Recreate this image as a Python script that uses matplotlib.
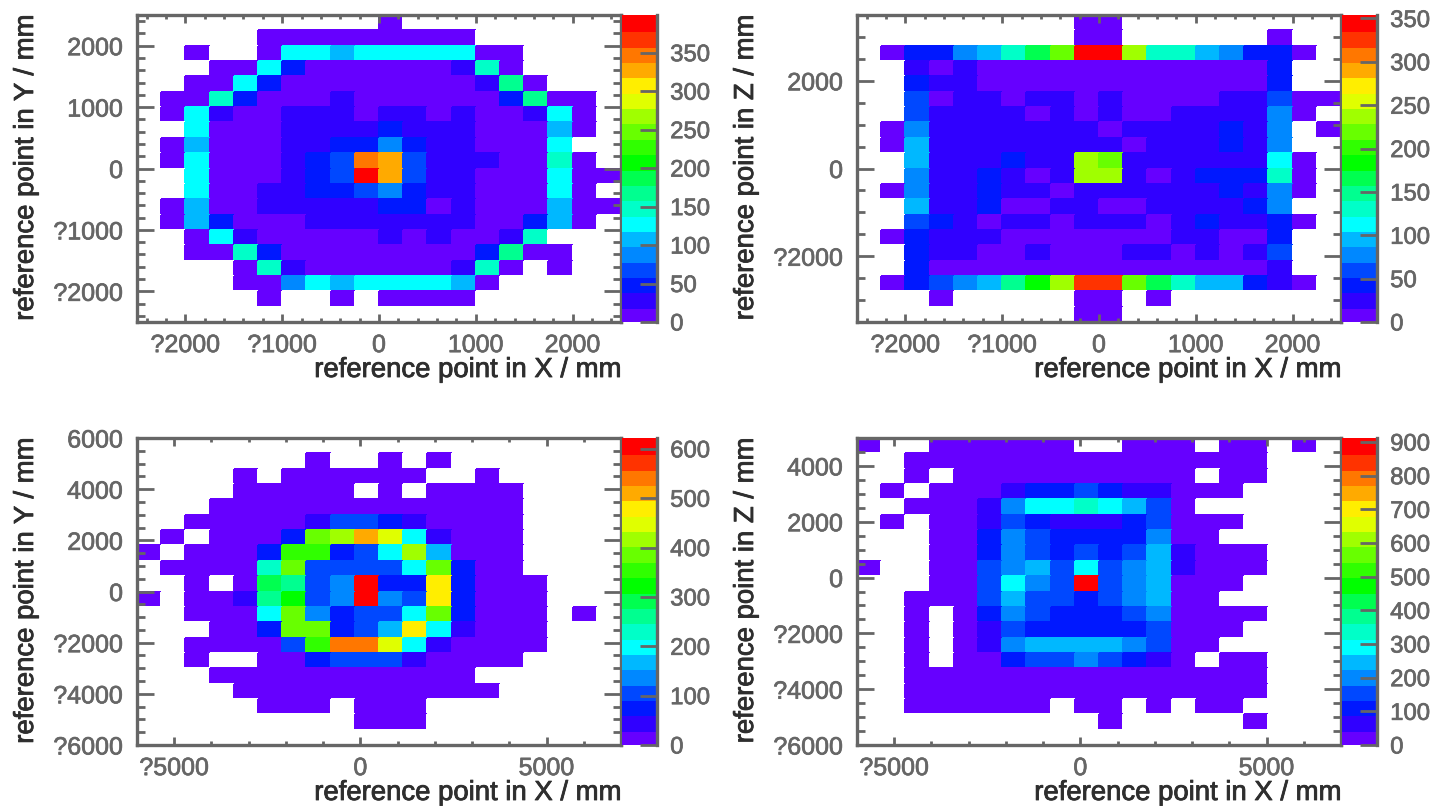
'''Recreate the four reference point maps with their colour bars.

Saves the figure as out.png, about 1431x806 pixels.
'''

import numpy as np
import matplotlib
matplotlib.use('Agg')
import matplotlib.pyplot as plt
import matplotlib.patheffects as pe
from matplotlib.colors import ListedColormap, Normalize
from matplotlib.ticker import FixedLocator, MultipleLocator, NullLocator

# Counts per bin, top row of the map first. 0 means an empty bin.
xy_top = [
    [0,0,0,0,0,0,0,0,0,0,10,0,0,0,0,0,0,0,0,0],
    [0,0,0,0,0,10,10,10,10,10,10,10,10,10,0,0,0,0,0,0],
    [0,0,10,0,0,10,130,130,110,130,130,130,130,130,10,10,0,0,0,0],
    [0,0,0,10,10,130,50,10,10,10,10,10,10,30,150,10,0,0,0,0],
    [0,0,10,10,130,50,10,10,10,10,10,10,10,10,30,170,10,0,0,0],
    [0,10,10,150,50,10,10,10,30,10,10,10,10,10,10,50,170,10,10,0],
    [0,10,130,30,10,10,30,30,30,10,30,30,10,30,10,10,30,130,10,0],
    [0,0,130,10,10,10,30,30,30,30,50,30,30,30,10,10,10,110,10,0],
    [0,10,110,10,10,10,30,30,50,50,90,50,30,30,10,10,10,130,0,0],
    [0,10,130,10,10,10,30,50,70,350,330,70,30,30,30,10,10,150,10,0],
    [0,0,130,10,10,10,30,50,70,390,330,70,30,30,10,10,10,130,10,10],
    [0,0,130,10,10,30,30,50,50,70,90,50,30,30,10,10,10,130,10,0],
    [0,10,110,10,10,30,30,30,30,30,50,50,10,30,10,10,10,110,10,10],
    [0,10,110,50,10,10,10,30,30,30,30,30,30,30,10,10,50,110,10,0],
    [0,0,10,130,30,10,10,10,10,10,30,10,30,10,10,30,150,0,0,0],
    [0,0,10,10,150,50,10,10,10,10,10,10,10,10,50,170,10,10,0,0],
    [0,0,0,0,10,150,30,10,10,10,10,10,10,30,150,10,0,10,0,0],
    [0,0,0,0,10,10,90,130,110,130,130,130,130,110,10,0,0,0,0,0],
    [0,0,0,0,0,10,0,0,10,0,10,10,10,10,0,0,0,0,0,0],
    [0,0,0,0,0,0,0,0,0,0,0,0,0,0,0,0,0,0,0,0],
]

xz_top = [
    [0,0,0,0,0,0,0,0,0,9,9,0,0,0,0,0,0,0,0,0],
    [0,0,0,0,0,0,0,0,0,9,9,0,0,0,0,0,0,9,0,0],
    [0,9,44,44,80,97,133,168,221,345,345,239,133,133,97,80,44,44,9,0],
    [0,0,27,9,27,9,9,9,9,9,9,9,9,9,9,9,9,44,0,0],
    [0,0,44,27,27,9,9,9,9,9,9,9,9,9,9,9,9,44,0,0],
    [0,0,62,9,27,27,9,27,27,9,27,9,9,9,9,27,27,62,9,9],
    [0,0,62,27,27,27,27,9,27,9,27,9,9,27,27,27,27,80,9,0],
    [0,9,80,27,27,27,27,27,27,27,9,27,27,27,27,44,27,80,0,9],
    [0,9,97,27,27,27,27,27,27,27,27,9,27,27,27,44,27,80,0,0],
    [0,0,97,27,27,27,44,27,27,239,221,27,27,27,27,27,27,115,9,0],
    [0,0,80,27,27,44,27,9,27,239,239,27,9,27,44,44,44,133,9,0],
    [0,9,80,27,27,44,27,27,9,27,27,27,27,27,27,44,27,80,9,0],
    [0,0,97,27,27,44,9,9,27,27,9,9,27,27,27,27,44,80,0,0],
    [0,0,62,44,27,9,27,27,9,27,27,27,9,27,44,27,27,44,9,0],
    [0,9,44,27,27,27,9,9,9,9,9,9,9,27,27,9,9,44,0,0],
    [0,0,44,27,27,9,9,27,9,9,9,27,27,9,27,9,27,62,0,0],
    [0,0,44,9,9,9,9,9,9,9,9,9,9,9,9,9,9,27,0,0],
    [0,9,44,62,80,97,150,186,239,327,327,221,168,133,97,97,44,27,9,0],
    [0,0,0,9,0,0,0,0,0,9,9,0,9,0,0,0,0,0,0,0],
    [0,0,0,0,0,0,0,0,0,9,9,0,0,0,0,0,0,0,0,0],
]

xy_bottom = [
    [0,0,0,0,0,0,0,0,0,0,0,0,0,0,0,0,0,0,0,0],
    [0,0,0,0,0,0,0,15,0,0,15,0,15,0,0,0,0,0,0,0],
    [0,0,0,0,15,0,15,15,15,15,15,15,0,0,15,0,0,0,0,0],
    [0,0,0,0,15,15,15,15,15,0,15,0,15,15,15,15,0,0,0,0],
    [0,0,0,15,15,15,15,15,15,15,15,15,15,15,15,15,0,0,0,0],
    [0,0,15,15,15,15,15,46,109,109,78,46,15,15,15,15,0,0,0,0],
    [0,15,0,15,15,15,78,388,419,512,450,202,46,15,15,15,0,0,0,0],
    [15,0,15,15,15,78,357,357,78,109,202,419,171,15,15,15,0,0,0,0],
    [0,15,15,15,15,233,388,109,109,109,109,202,388,78,15,15,0,0,0,0],
    [0,0,15,0,15,295,264,109,140,605,78,78,481,78,15,15,15,0,0,0],
    [15,0,15,15,46,264,326,109,140,605,140,109,481,78,15,15,15,0,0,0],
    [0,0,15,15,15,202,388,140,78,109,109,202,388,78,15,15,15,0,15,0],
    [0,0,0,15,15,78,388,388,78,109,171,481,202,46,15,15,15,0,0,0],
    [0,0,15,15,15,15,109,357,543,543,450,202,46,15,15,15,15,0,0,0],
    [0,0,15,0,0,15,15,78,109,109,109,46,15,15,15,15,0,0,0,0],
    [0,0,0,15,15,15,15,15,15,15,15,15,15,15,0,0,0,0,0,0],
    [0,0,0,0,15,15,15,15,15,15,15,15,15,15,15,0,0,0,0,0],
    [0,0,0,0,0,15,15,15,0,15,15,15,0,0,0,0,0,0,0,0],
    [0,0,0,0,0,0,0,0,0,15,15,15,0,0,0,0,0,0,0,0],
    [0,0,0,0,0,0,0,0,0,0,0,0,0,0,0,0,0,0,0,0],
]

xz_bottom = [
    [23,0,0,23,23,23,23,23,23,0,0,23,23,23,0,23,23,0,23,0],
    [0,0,23,23,23,23,23,23,23,23,23,23,23,23,23,23,23,0,0,0],
    [0,0,23,0,23,23,23,23,23,23,23,23,23,23,0,23,23,0,0,0],
    [0,23,0,23,23,23,68,114,114,160,114,68,68,23,23,23,0,0,0,0],
    [0,0,23,23,23,68,205,296,296,342,296,251,160,23,0,0,0,0,0,0],
    [0,23,0,23,23,68,160,114,68,68,68,114,160,23,23,23,0,0,0,0],
    [0,0,0,23,23,114,205,160,114,114,114,114,205,23,23,0,0,0,0,0],
    [0,0,0,23,23,114,205,160,114,160,114,160,251,68,23,23,23,0,0,0],
    [23,0,0,23,23,160,205,251,160,296,160,205,251,68,23,23,23,0,0,0],
    [0,0,0,23,23,160,296,205,160,889,160,205,251,23,23,23,0,0,0,0],
    [0,0,23,23,23,160,251,160,160,114,160,205,251,23,23,0,0,0,0,0],
    [0,0,23,0,23,114,205,160,114,114,114,160,205,23,23,23,23,0,0,0],
    [0,0,23,0,23,68,160,114,114,114,114,114,160,23,23,23,0,0,0,0],
    [0,0,23,0,23,68,205,251,251,251,251,205,160,23,23,0,0,0,0,0],
    [0,0,23,0,23,23,114,160,160,205,160,114,68,23,0,23,23,0,0,0],
    [0,0,23,23,23,23,23,23,23,23,23,23,23,23,23,23,23,0,0,0],
    [0,0,23,23,23,23,23,23,23,23,23,23,23,23,23,23,23,0,0,0],
    [0,0,23,23,23,23,23,23,0,23,23,0,23,0,23,23,0,0,0,0],
    [0,0,0,0,0,0,0,0,0,0,23,0,0,0,0,0,23,0,0,0],
    [0,0,0,0,0,0,0,0,0,0,0,0,0,0,0,0,0,0,0,0],
]

xy_top_bar_ticks = [0, 50, 100, 150, 200, 250, 300, 350]
xz_top_bar_ticks = [0, 50, 100, 150, 200, 250, 300, 350]
xy_bottom_bar_ticks = [0, 100, 200, 300, 400, 500, 600]
xz_bottom_bar_ticks = [0, 100, 200, 300, 400, 500, 600, 700, 800, 900]

palette = ['#6600ff', '#3000ff', '#0018ff', '#0048ff', '#0088ff',
           '#00b8ff', '#00ffff', '#00ffc8', '#00ff90', '#00ff50',
           '#00ff00', '#30ff00', '#68ff00', '#a0ff00', '#e0ff00',
           '#ffee00', '#ffaa00', '#ff7700', '#ff3300', '#ff0000']

FIG_W = 1431
FIG_H = 806
GREY = '#666666'
TEXT = '#2e2e2e'

plt.rcParams['font.family'] = ['Liberation Sans', 'DejaVu Sans']


def tick_text(values):
    '''The source lost its minus signs, negative labels show a ? instead.'''
    return ['?' + str(abs(v)) if v < 0 else str(v) for v in values]


def px_axes(fig, left, top, right, bottom):
    '''Add axes from pixel edges measured from the top left corner.'''
    return fig.add_axes([left / FIG_W, 1 - bottom / FIG_H,
                         (right - left) / FIG_W, (bottom - top) / FIG_H])


def thicken(labels, color, width):
    '''The reference text is heavier than the regular face, stroke it a bit.'''
    for label in labels:
        label.set_path_effects([pe.withStroke(linewidth=width,
                                              foreground=color)])


def draw_panel(fig, left, top, counts, xlim, ylim, xticks, yticks,
               xminor, yminor, vmax, bar_ticks, xname, yname):
    '''Draw one map, its colour bar and its axis titles.'''
    right = left + 484
    bottom = top + 307
    ax = px_axes(fig, left, top, right, bottom)

    cmap = ListedColormap(palette)
    cmap.set_bad('white')
    norm = Normalize(vmin=0, vmax=vmax)

    data = np.ma.masked_equal(np.array(counts, dtype=float), 0)
    x_edges = np.linspace(xlim[0], xlim[1], data.shape[1] + 1)
    y_edges = np.linspace(ylim[1], ylim[0], data.shape[0] + 1)
    mesh = ax.pcolormesh(x_edges, y_edges, data, cmap=cmap, norm=norm,
                         edgecolors='face', linewidth=0.2)

    ax.set_xlim(xlim)
    ax.set_ylim(ylim)
    ax.set_xticks(xticks)
    ax.set_xticklabels(tick_text(xticks))
    ax.set_yticks(yticks)
    ax.set_yticklabels(tick_text(yticks))
    ax.xaxis.set_minor_locator(MultipleLocator(xminor))
    ax.yaxis.set_minor_locator(MultipleLocator(yminor))

    ax.tick_params(axis='x', which='major', direction='in', top=True,
                   length=6, width=2, color=GREY, labelcolor=GREY,
                   labelsize=18, pad=8)
    ax.tick_params(axis='x', which='minor', direction='in', top=True,
                   length=3, width=2, color=GREY)
    ax.tick_params(axis='y', which='major', direction='in', right=True,
                   length=12.5, width=2, color=GREY, labelcolor=GREY,
                   labelsize=18, pad=10)
    ax.tick_params(axis='y', which='minor', direction='in', right=True,
                   length=5.5, width=2, color=GREY)
    for spine in ax.spines.values():
        spine.set_linewidth(2.4)
        spine.set_color(GREY)
    ax.set_axisbelow(False)
    thicken(ax.get_xticklabels() + ax.get_yticklabels(), GREY, 0.5)

    # colour bar, only its right side has a line
    cax = px_axes(fig, right + 1, top, right + 36, bottom)
    bar = fig.colorbar(mesh, cax=cax)
    bar.outline.set_visible(False)
    bar.solids.set_edgecolor('face')
    cax.yaxis.set_major_locator(FixedLocator(bar_ticks))
    cax.yaxis.set_minor_locator(NullLocator())
    cax.tick_params(axis='y', which='major', direction='in', length=12,
                    width=2, color=GREY, labelcolor=GREY, labelsize=17.2,
                    pad=9.5)
    cax.spines['right'].set_visible(True)
    cax.spines['right'].set_linewidth(2.4)
    cax.spines['right'].set_color(GREY)
    thicken(cax.get_yticklabels(), GREY, 0.5)

    x_title = fig.text(right / FIG_W, 1 - (bottom + 55) / FIG_H, xname,
                       color=TEXT, fontsize=19.8, ha='right', va='baseline')
    y_title = fig.text((left - 111) / FIG_W, 1 - top / FIG_H, yname,
                       color=TEXT, fontsize=19.8, rotation=90, ha='center',
                       va='top')
    thicken([x_title, y_title], TEXT, 0.6)


def main():
    fig = plt.figure(figsize=(FIG_W / 100, FIG_H / 100), dpi=100)

    draw_panel(fig, 137, 15, xy_top, (-2500, 2500), (-2500, 2500),
               [-2000, -1000, 0, 1000, 2000], [-2000, -1000, 0, 1000, 2000],
               200, 200, 399, xy_top_bar_ticks,
               'reference point in X / mm', 'reference point in Y / mm')
    draw_panel(fig, 857, 15, xz_top, (-2500, 2500), (-3500, 3500),
               [-2000, -1000, 0, 1000, 2000], [-2000, 0, 2000],
               200, 500, 354, xz_top_bar_ticks,
               'reference point in X / mm', 'reference point in Z / mm')
    draw_panel(fig, 137, 438, xy_bottom, (-6000, 7000), (-6000, 6000),
               [-5000, 0, 5000], [-6000, -4000, -2000, 0, 2000, 4000, 6000],
               1000, 500, 622, xy_bottom_bar_ticks,
               'reference point in X / mm', 'reference point in Y / mm')
    draw_panel(fig, 857, 438, xz_bottom, (-6000, 7000), (-6000, 5000),
               [-5000, 0, 5000], [-6000, -4000, -2000, 0, 2000, 4000],
               1000, 500, 912, xz_bottom_bar_ticks,
               'reference point in X / mm', 'reference point in Z / mm')

    fig.savefig('out.png', dpi=100)


if __name__ == '__main__':
    main()
